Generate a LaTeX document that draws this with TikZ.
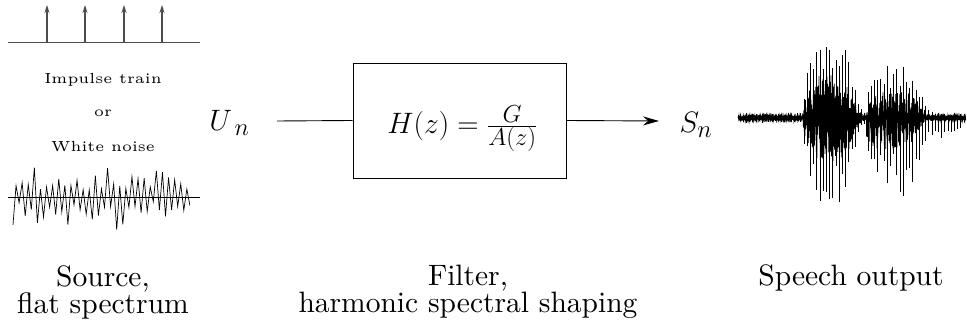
\documentclass[tikz,border=0pt]{standalone}
\usepackage{fontspec}
\usepackage{graphicx}
\usetikzlibrary{arrows.meta}
\newfontfamily\tenfont{lmroman10-regular.otf}
\newfontfamily\fivefont{lmroman5-regular.otf}
\newcommand{\bigfont}{\tenfont\fontsize{29.5}{27}\selectfont}
\newcommand{\mathfont}{\fontsize{24.88}{27}\selectfont}
\newcommand{\bigmath}[1]{\scalebox{1.186}{\mathfont$#1$}}
\newcommand{\smallspaced}{\fivefont\fontsize{14.6}{16}\selectfont}
\begin{document}
\begin{tikzpicture}[x=1pt,y=-1pt,
  lbl/.style={font=\bigfont,inner sep=0pt,align=center},
  small/.style={font=\smallspaced,inner sep=0pt},
  conn/.style={line width=0.9pt},
  imp/.style={line width=1.1pt,black!70,-{Stealth[length=8pt,width=5pt]}},
  base/.style={line width=1pt,black!70},
  declare function={
    envp(\x)=5+(\x>802.5)*81*exp(-min(pow(abs((\x-829)/25),4),20))+(\x>865.5)*48*exp(-min(pow(abs((\x-894)/28),4),20));
    envc(\x)=5+(\x>802.5)*82*exp(-min(pow(abs((\x-829)/25),4),20))+(\x>865.5)*60*exp(-min(pow(abs((\x-890)/28),4),20));
    envn(\x)=envc(\x)+(\x>895)*(\x<962)*(24-0.17*(\x-895));
  }]
\useasboundingbox (0,0) rectangle (967,328);
\pgfmathsetseed{12}
% impulse train
\coordinate (ib0) at (8,43);
\coordinate (ib1) at (200,43);
\draw[base] (ib0) -- (ib1);
\foreach \i/\xx in {1/47,2/85,3/124,4/162}{
  \coordinate (ia\i) at (\xx,43);
  \coordinate (it\i) at (\xx,5);
  \draw[imp] (ia\i) -- (it\i);
}
\node[small] (t1) at (103,80) {Impulse train};
\node[small] (t2) at (103,113) {or};
\node[small] (t3) at (103,147) {White noise};
% white noise
\coordinate (nb0) at (8,197);
\coordinate (nb1) at (200,197);
\draw[line width=0.9pt] (nb0) -- (nb1);
\draw[line width=0.7pt,line join=miter] (13,225) \foreach \i in {1,...,58}{ -- ({13+\i*3.05},{197+(1-2*mod(\i,2))*(3+28*rnd*rnd+8*rnd)}) };
% signal chain
\node[lbl,anchor=base] (un) at (229.5,131) {\bigmath{U_{\mkern4mu n}}};
\coordinate (uin) at (277,121);
\node[draw,line width=0.9pt,minimum width=213pt,minimum height=115pt,inner sep=0pt] (filt) at (459.5,120.5) {};
\node[lbl,anchor=base] (hz) at (462.5,134) {\bigmath{H(z)=\frac{G}{A(z)}}};
\coordinate (aout) at (659,121);
\node[lbl,anchor=base] (sn) at (696,133) {\bigmath{S_n}};
\draw[conn] (uin) -- (filt.west);
\draw[conn,-{Stealth[length=16pt,width=9pt]}] (filt.east) -- (aout);
% speech waveform
\draw[line width=0.7pt] (738,118) \foreach \x in {738,738.8,...,966}{ -- (\x+0.2,{118-0.5*envp(\x)*sqrt(rnd)}) -- (\x+0.6,{118+0.5*envc(\x)*sqrt(rnd)}) };
\foreach \x in {740,743.2,...,966}{
  \draw[line width=1pt] (\x,{118-envp(\x)*(0.55+0.45*rnd)}) -- (\x,{118+envn(\x)*(0.55+0.45*rnd)});
}
% captions
\node[lbl] (c1) at (103,292) {Source,\\flat spectrum};
\node[lbl] (c2) at (468,292) {Filter,\\harmonic spectral shaping};
\node[lbl,anchor=base] (c3) at (851,286) {Speech output};
\end{tikzpicture}
\end{document}
